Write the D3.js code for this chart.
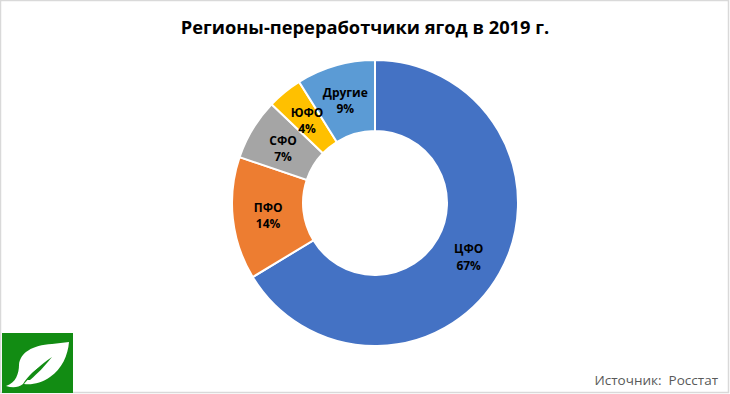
<!DOCTYPE html>
<html>
<head>
<meta charset="utf-8">
<script src="https://cdn.jsdelivr.net/npm/d3@7"></script>
<style>
  body { margin: 0; background: #fff; }
  svg { display: block; font-family: "Open Sans", "Liberation Sans", sans-serif; }
</style>
</head>
<body>
<div id="chart_container"></div>
<script>
const regions = ["ЦФО", "ПФО", "СФО", "ЮФО", "Другие"];
const shares = [67, 14, 7, 4, 9];
const colors = ["#4472C4", "#ED7D31", "#A5A5A5", "#FFC000", "#5B9BD5"];

const title = "Регионы-переработчики ягод в 2019 г.";
const source = "Источник:  Росстат";

function DrawChart() {
    const width = 730, height = 394;
    const cx = 375, cy = 203;
    const outerR = 143, innerR = 72;

    const svg = d3.select("#chart_container")
        .append("svg")
        .attr("width", width)
        .attr("height", height);

    // outer frame
    svg.append("rect")
        .attr("x", 0.5).attr("y", 0.5)
        .attr("width", width - 2).attr("height", height - 2)
        .attr("fill", "#fff")
        .attr("stroke", "#d9d9d9")
        .attr("stroke-width", 1.5);

    svg.append("text")
        .attr("x", 365).attr("y", 34)
        .attr("text-anchor", "middle")
        .attr("font-size", 18.3)
        .attr("font-weight", "bold")
        .attr("fill", "#000")
        .text(title);

    const data = regions.map((r, i) => ({ region: r, value: shares[i], color: colors[i] }));

    const pie = d3.pie().sort(null).value(d => d.value);
    const arc = d3.arc().innerRadius(innerR).outerRadius(outerR);
    const labelArc = d3.arc().innerRadius((innerR + outerR) / 2).outerRadius((innerR + outerR) / 2);

    const g = svg.append("g").attr("transform", `translate(${cx},${cy})`);

    g.selectAll("path")
        .data(pie(data))
        .enter()
        .append("path")
        .attr("d", arc)
        .attr("fill", d => d.data.color)
        .attr("stroke", "#fff")
        .attr("stroke-width", 2);

    const labels = g.selectAll("text.lbl")
        .data(pie(data))
        .enter()
        .append("text")
        .attr("class", "lbl")
        .attr("transform", d => `translate(${labelArc.centroid(d)})`)
        .attr("text-anchor", "middle")
        .attr("font-size", 12)
        .attr("font-weight", "bold")
        .attr("fill", "#000");
    labels.append("tspan").attr("x", 0).attr("dy", "-0.2em").text(d => d.data.region);
    labels.append("tspan").attr("x", 0).attr("dy", "1.35em").text(d => d.data.value + "%");

    svg.append("text")
        .attr("x", 718).attr("y", 385)
        .attr("text-anchor", "end")
        .attr("font-size", 13.5)
        .attr("fill", "#595959")
        .style("white-space", "pre")
        .text(source);

    // logo
    const logo = svg.append("g").attr("transform", "translate(2,333)");
    logo.append("rect").attr("width", 71).attr("height", 60).attr("fill", "#128C13");
    logo.append("path")
        .attr("fill", "#fff")
        .attr("d", "M4,53 C14,50 17,40 17,32 C18,20 30,12 50,11 L67,9 C66,22 60,36 48,44 C40,50 30,52 22,51 C26,46 34,38 44,30 C33,36 26,43 21,51 C16,55 10,55 4,53 Z");
    logo.append("path")
        .attr("fill", "#128C13")
        .attr("d", "M25,47 C30,40 38,32 50,24 C42,34 36,40 28,47 Z");
}

DrawChart();
</script>
</body>
</html>
